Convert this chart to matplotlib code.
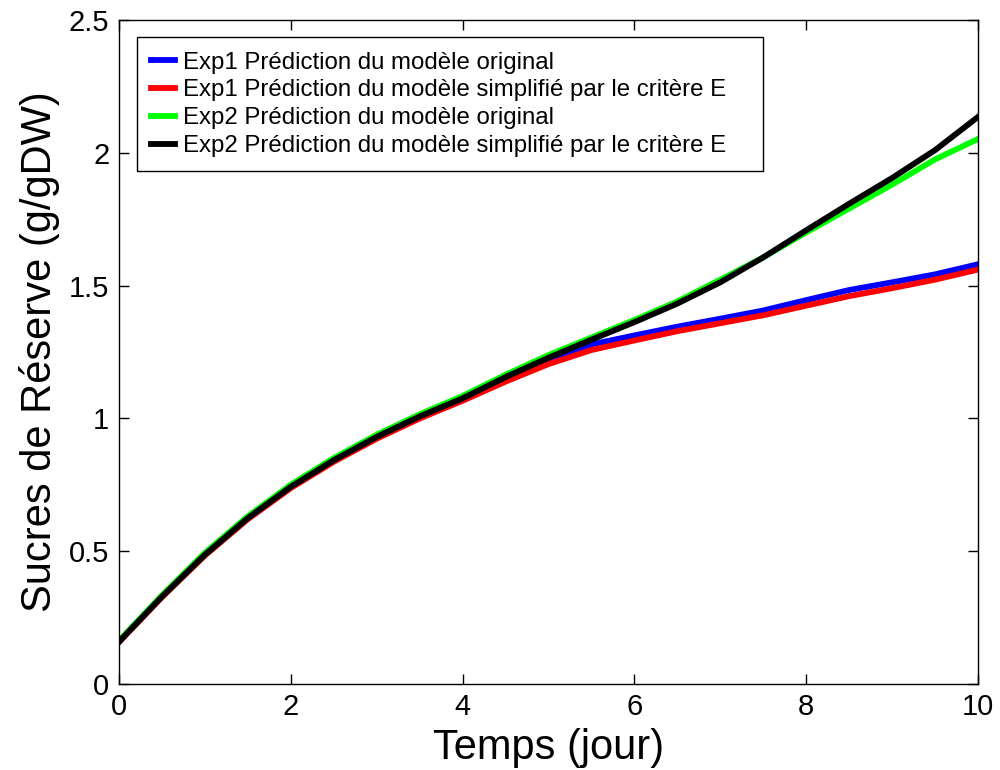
import matplotlib
matplotlib.use("Agg")
import matplotlib.pyplot as plt

plt.rcParams['font.family'] = ['Liberation Sans', 'DejaVu Sans']

# temps (jour)
t = [0, 0.5, 1, 1.5, 2, 2.5, 3, 3.5, 4, 4.5, 5, 5.5, 6, 6.5, 7, 7.5, 8, 8.5, 9, 9.5, 10]

# sucres de reserve (g/gDW)
exp1_orig = [0.160, 0.331, 0.490, 0.628, 0.746, 0.846, 0.934, 1.011, 1.079, 1.153, 1.222,
             1.278, 1.312, 1.345, 1.375, 1.406, 1.445, 1.483, 1.512, 1.542, 1.580]
exp1_simp = [0.157, 0.326, 0.483, 0.620, 0.737, 0.836, 0.923, 0.999, 1.066, 1.138, 1.204,
             1.257, 1.293, 1.328, 1.358, 1.388, 1.424, 1.460, 1.490, 1.522, 1.560]
exp2_orig = [0.162, 0.333, 0.493, 0.631, 0.750, 0.850, 0.938, 1.015, 1.084, 1.164, 1.238,
             1.304, 1.370, 1.440, 1.522, 1.606, 1.700, 1.790, 1.880, 1.975, 2.052]
exp2_simp = [0.158, 0.328, 0.486, 0.624, 0.742, 0.842, 0.930, 1.007, 1.075, 1.155, 1.228,
             1.296, 1.362, 1.432, 1.512, 1.606, 1.708, 1.808, 1.905, 2.010, 2.135]

labels = ['Exp1 Prédiction du modèle original',
          'Exp1 Prédiction du modèle simplifié par le critère E',
          'Exp2 Prédiction du modèle original',
          'Exp2 Prédiction du modèle simplifié par le critère E']

fig = plt.figure(figsize=(10, 7.7), dpi=100)
ax = fig.add_axes([0.119, 0.112, 0.859, 0.862])

ax.plot(t, exp1_orig, color='#0000ff', lw=4.2, label=labels[0])
ax.plot(t, exp1_simp, color='#ff0000', lw=4.2, label=labels[1])
ax.plot(t, exp2_orig, color='#00ff00', lw=4.2, label=labels[2])
ax.plot(t, exp2_simp, color='#000000', lw=4.2, label=labels[3])

ax.set_xlim(0, 10)
ax.set_ylim(0, 2.5)
ax.set_xticks([0, 2, 4, 6, 8, 10])
ax.set_yticks([0, 0.5, 1, 1.5, 2, 2.5])
ax.set_yticklabels(['0', '0.5', '1', '1.5', '2', '2.5'])
ax.tick_params(direction='in', length=7, width=1, top=True, right=True,
               labelsize=21, pad=7)
for s in ax.spines.values():
    s.set_linewidth(1.0)

ax.set_xlabel('Temps (jour)', fontsize=30, labelpad=5)
ax.set_ylabel('Sucres de Réserve (g/gDW)', fontsize=30, labelpad=6)

# legend box spans most of the upper-left, like the original
leg = ax.legend(loc='upper left', bbox_to_anchor=(0.021, 0.774, 0.729, 0.2),
                mode='expand', borderaxespad=0,
                fontsize=17.3, frameon=True, fancybox=False, edgecolor='black',
                framealpha=1, handlelength=1.0, handletextpad=0.3,
                labelspacing=0.24, borderpad=0.6)
leg.get_frame().set_linewidth(1.0)

fig.savefig('out.png', dpi=100)
